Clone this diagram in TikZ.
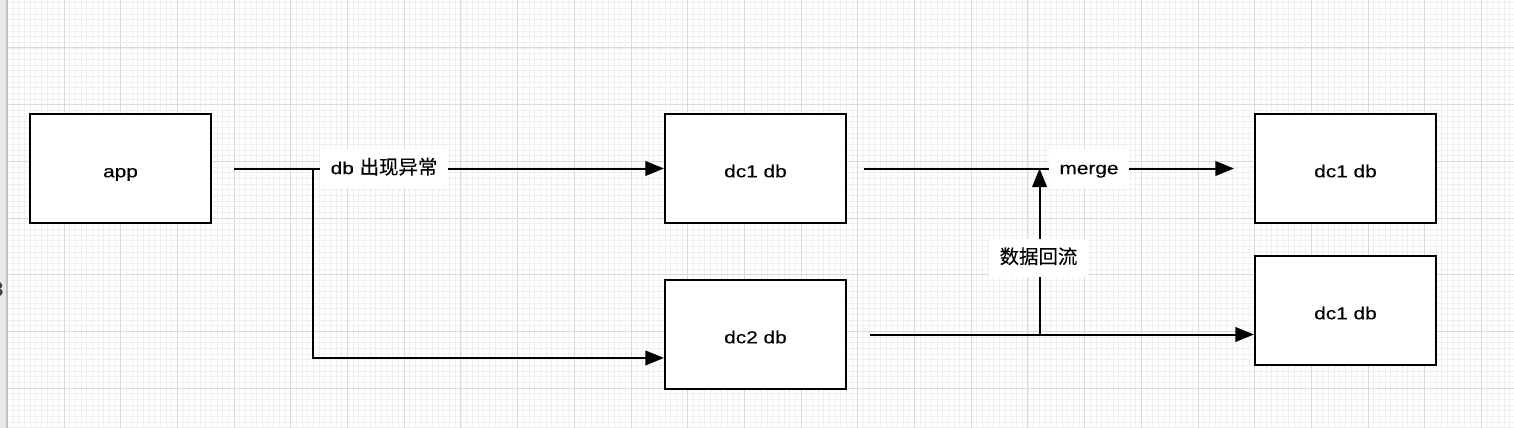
\documentclass[tikz,border=0pt]{standalone}
\usepackage{fontspec}
\setmainfont{Liberation Sans}[FakeStretch=1.2, FakeBold=0.2]
\newfontfamily\cjk{Noto Sans CJK SC}[Scale=1.12, FakeBold=0.2]
\usetikzlibrary{arrows.meta,calc}
\definecolor{gridminor}{RGB}{240,240,240}
\definecolor{gridmajor}{RGB}{218,218,218}
\definecolor{rulerbg}{RGB}{232,232,232}
\definecolor{rulerline}{RGB}{192,192,192}

\begin{document}
\begin{tikzpicture}[x=0.75pt, y=-0.75pt, font=\fontsize{13}{15}\selectfont]
  \tikzstyle{box}=[draw=black, line width=1.6pt, fill=white, minimum width=135.75pt,
                   minimum height=81.75pt, inner sep=0pt, text height=14pt, text depth=0.8pt]
  \tikzstyle{flow}=[draw, line width=1.5pt, -{Triangle[length=14pt,width=11pt]}]
  \tikzstyle{lbl}=[fill=white, inner xsep=8pt, inner ysep=0pt, minimum height=29pt,
                   text height=11pt, text depth=2.6pt]

  % constants
  \def \Minor {5.67}
  \def \Major {56.7}
  \def \GridX {7.3}

  \useasboundingbox (0,0) rectangle (1514,428);
  \clip (0,0) rectangle (1514,428);

  % background grid
  \fill[white] (0,0) rectangle (1514,428);
  \foreach \i in {0,...,266}
    \draw[gridminor, line width=0.6pt] ({\GridX+\i*\Minor},0) -- ++(0,428);
  \foreach \j in {0,...,75}
    \draw[gridminor, line width=0.6pt] (0,{2.64+\j*\Minor}) -- ++(1514,0);
  \foreach \k in {0,...,26}
    \draw[gridmajor, line width=0.75pt] ({\GridX+\k*\Major},0) -- ++(0,428);
  \foreach \k in {0,...,6}
    \draw[gridmajor, line width=0.75pt] (0,{48+\k*\Major}) -- ++(1514,0);

  % ruler at the left
  \fill[rulerbg] (0,0) rectangle (6,428);
  \draw[rulerline, line width=1.5pt] (7,0) -- (7,428);
  \node[text=black!75, anchor=center, font=\fontsize{15}{17}\selectfont] (rulernum) at (-3,289) {8};

  % Draw the boxes
  \foreach \pos/\name/\txt in
      {
        {(120.5,168.5)/app/app},
        {(755.5,168.5)/dcone/dc1 db},
        {(755.5,334.5)/dctwo/dc2 db},
        {(1345.5,168.5)/mergeone/dc1 db},
        {(1345.5,310.5)/mergetwo/dc1 db}%
      }
      \node[box] (\name) at \pos {\txt};

  \coordinate (split) at (313,168.5);
  \coordinate (flowfoot) at ($(dctwo.east)+(192.5,0)$);

  % Connect boxes
  \path[flow, shorten <=16.5pt] (app.east) -- (dcone.west);
  \path[flow, shorten <=16.5pt] (app.east) -- (split) |- ([yshift=-17.6pt]dctwo.west);
  \path[flow, shorten <=12.75pt, shorten >=15pt] (dcone.east) -- (mergeone.west);
  \path[flow, shorten <=17.25pt] (dctwo.east) -- (dctwo.east -| mergetwo.west);
  \path[flow] (flowfoot) -- (flowfoot |- dcone.east);

  % labels on the connectors
  \node[lbl] (faillbl) at (384,168.5) {db {\cjk 出现异常}};
  \node[lbl] (mergelbl) at (1089,168.5) {merge};
  \node[lbl] (backlbl) at (1038.5,258) {\cjk 数据回流};

\end{tikzpicture}
\end{document}
